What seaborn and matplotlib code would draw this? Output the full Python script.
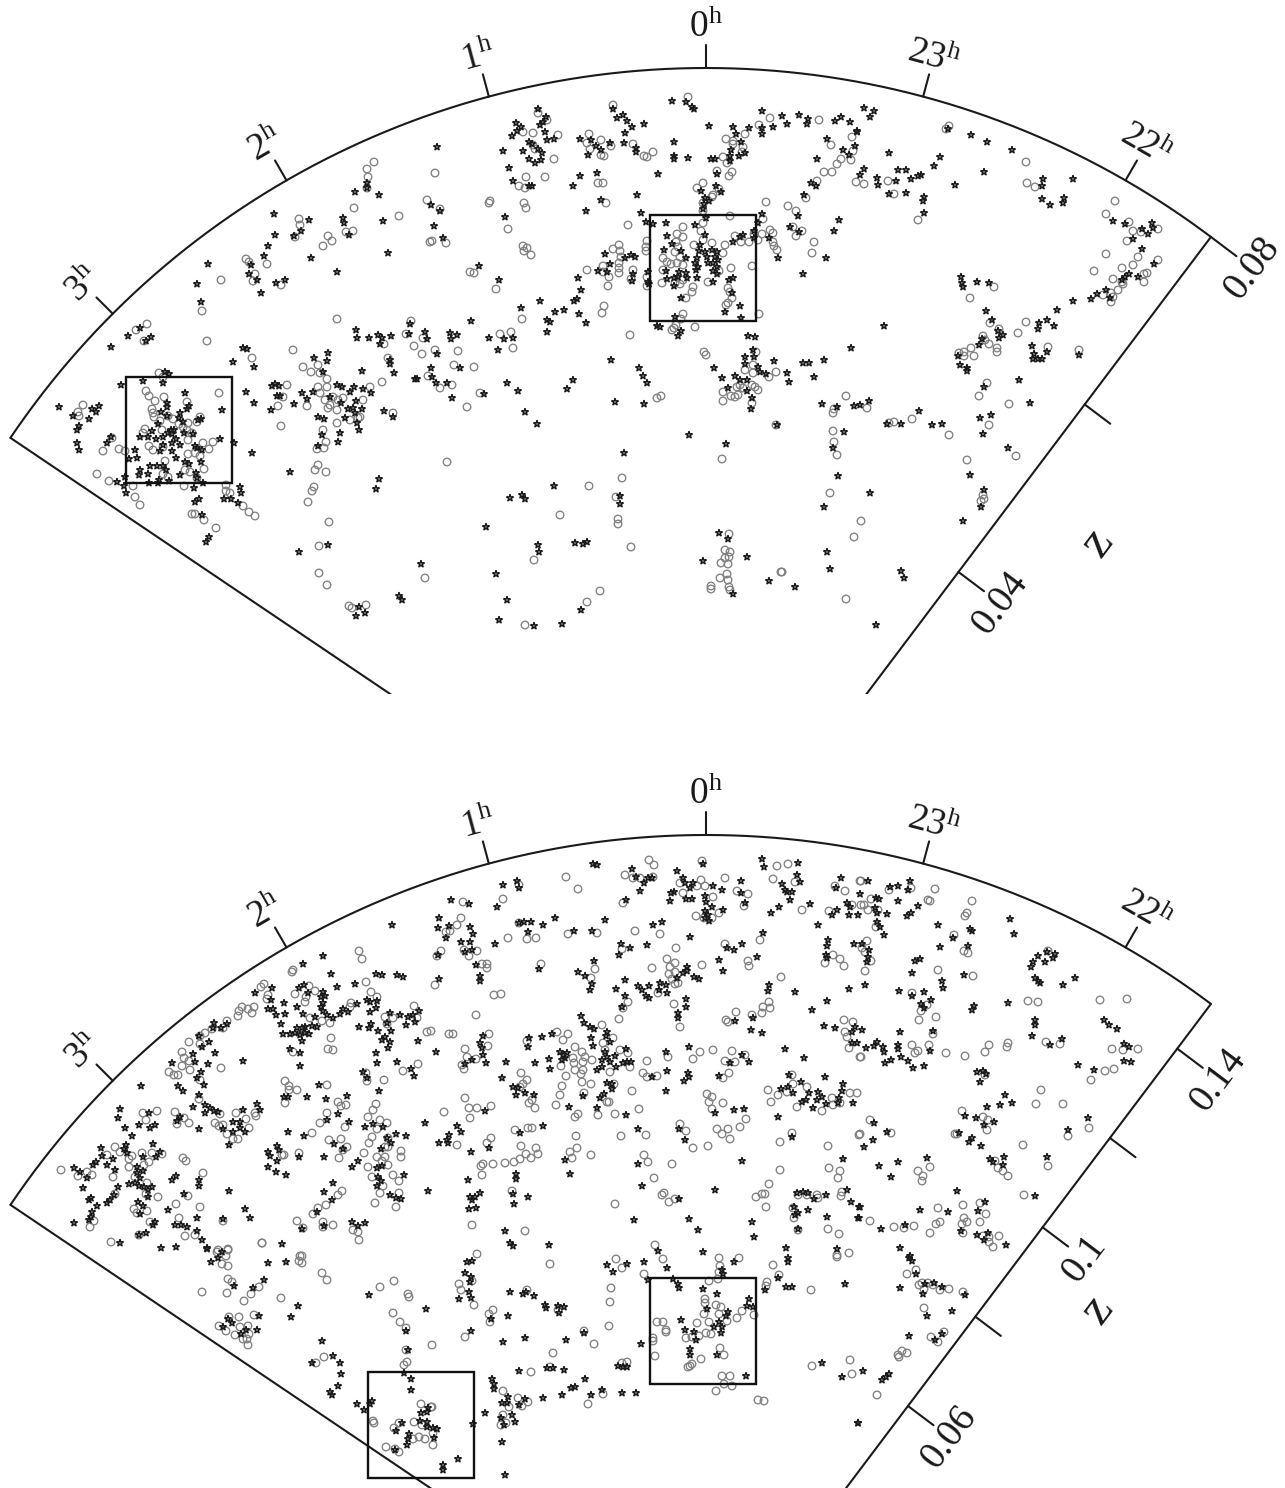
import numpy as np
import pandas as pd
import seaborn as sns
import matplotlib
matplotlib.use("Agg")
import matplotlib.pyplot as plt
from matplotlib.patches import Rectangle

# positions, x and y along the page
top_stars = [
(355,192),(379,195),(367,183),(367,188),(274,214),(309,220),(343,218),(344,223),(383,221),(275,235),(294,236),(301,231),(349,235),(268,246),(264,256),(311,258),(388,253),(337,272),(208,264),(251,265),(249,274),(257,280),(276,283),(285,280),(261,293),(197,284),(201,302),(111,347),(128,336),(140,328),(151,337),(146,341),(243,348),(247,349),(233,362),(254,367),(356,330),(357,338),(369,338),(378,335),(382,338),(380,344),(391,336),(410,324),(409,334),(425,332),(427,339),(328,353),(327,361),(314,358),(323,372),(390,360),(390,364),(394,373),(362,371),(415,379),(417,379),(165,372),(169,374),
(538,109),(546,117),(516,123),(521,127),(517,131),(512,136),(540,125),(543,122),(545,132),(547,140),(554,139),(529,142),(532,144),(538,149),(542,153),(523,151),(503,151),(529,159),(535,163),(541,160),(509,168),(513,181),(529,186),(532,186),(437,147),(613,109),(617,118),(623,115),(627,121),(632,127),(644,124),(625,133),(624,143),(580,139),(591,140),(596,146),(610,143),(601,150),(588,155),(636,148),(636,152),(672,101),(686,102),(692,107),(694,109),(709,126),(674,142),(674,156),(674,159),(688,158),(711,159),(715,159),(658,174),(597,173),(580,176),(573,186),(637,195),(601,200),(586,211),(505,217),(440,211),(434,226),(443,238),(431,205),
(762,111),(782,116),(799,115),(808,119),(807,124),(835,121),(841,117),(850,122),(787,124),(773,127),(762,128),(762,134),(749,128),(733,127),(736,134),(741,142),(731,150),(745,153),(739,156),(730,156),(730,161),(717,174),(857,132),(827,139),(855,146),(843,150),(849,155),(817,159),(811,183),(816,186),(804,195),(716,186),(701,191),(721,192),(705,198),(709,201),(704,204),(703,209),(706,218),(641,213),(646,222),(653,224),(666,223),(695,225),(762,214),(758,223),(798,216),(790,227),(799,232),(839,220),(834,231),(769,238),(754,231),(754,238),(740,237),(743,235),(733,242),(778,258),(826,258),(803,274),
(667,236),(672,244),(664,250),(681,251),(686,258),(705,235),(700,245),(699,251),(705,252),(712,250),(717,252),(697,258),(707,257),(715,257),(718,260),(695,263),(698,267),(708,263),(713,263),(717,267),(696,270),(713,271),(717,274),(666,271),(679,272),(686,273),(687,278),(667,279),(674,278),(678,277),(697,278),(674,286),(713,282),(729,280),(733,278),(732,293),(681,298),(740,306),(725,312),(741,318),(675,317),(657,326),(660,327),(681,331),(678,336),(748,336),(755,337),
(605,254),(610,264),(625,258),(631,255),(635,257),(598,271),(607,272),(633,274),(632,281),(648,272),(648,282),(649,284),(578,278),(581,290),(577,299),(574,301),(564,310),(555,312),(579,314),(540,301),(521,308),(547,320),(550,322),(586,323),(547,332),(471,321),(499,280),(479,266),(450,333),(451,339),(457,335),(489,338),(504,339),(513,338),(498,350),(437,354),(460,368),(431,368),(432,377),(611,360),(639,368),(643,376),
(714,368),(745,357),(753,350),(754,357),(745,364),(758,367),(760,372),(766,374),(774,361),(787,373),(803,363),(809,363),(824,360),(851,348),(722,378),(735,376),(814,377),
(864,108),(874,111),(870,117),(857,131),(948,129),(971,135),(987,142),(1012,150),(889,153),(940,157),(934,166),(864,169),(860,175),(898,170),(906,170),(877,178),(878,185),(896,181),(911,179),(918,176),(921,175),(955,185),(984,172),(889,194),(906,193),(924,197),(923,201),(924,213),(1043,179),(1042,186),(1073,179),(1042,199),(1050,205),(1064,198),(1063,203),(1113,221),(1125,224),(1152,223),(1142,229),(1153,228),(1148,234),(1133,239),(1142,249),(1154,264),(1129,274),(1125,277),(1122,280),(1138,277),(1106,290),(1097,294),(1091,299),(1110,298),(1073,301),(1057,310),(1039,323),(1038,329),(1047,320),(1054,326),(961,277),(962,283),(963,287),(977,282),(989,283),(986,311),(992,320),(998,331),(1003,335),(999,338),(982,339),(979,345),(884,326),(1032,346),(1034,354),(1033,359),(1038,359),(1042,359),(1047,352),(1079,355),(958,356),(960,365),(967,368),(967,371),(984,387),(1019,380),
(869,401),(860,405),(919,411),(887,424),(901,424),(932,425),(942,424),(980,418),(991,415),(983,434),(1030,403),(1008,448),(970,475),(870,493),(984,490),(981,507),(963,521),(901,571),(904,578),(876,625),
(436,383),(447,383),(452,398),(484,394),(507,383),(518,391),(525,412),(537,424),(567,389),(573,380),(615,402),(647,383),(644,404),(689,435),(726,444),(624,453),(728,388),(747,391),(752,398),(751,409),(777,425),(789,382),(822,404),(837,407),(854,406),(844,432),(833,448),(838,476),(824,507),(554,486),(510,498),(522,495),(525,499),(620,496),(620,504),(486,527),(538,545),(539,552),(575,543),(583,544),(587,542),(496,574),(507,600),(499,620),(534,626),(562,624),(581,610),(719,533),(728,539),(747,557),(703,561),(733,594),(769,581),(795,587),(827,552),(830,569),(740,380),(747,380),
(59,407),(73,416),(92,409),(99,406),(96,412),(89,419),(79,426),(77,430),(77,443),(79,450),(111,437),(107,443),(121,385),(143,381),(163,383),(185,393),(167,403),(167,407),(161,412),(167,416),(189,406),(187,409),(180,413),(179,418),(183,422),(198,420),(201,419),(222,410),(158,424),(152,431),(171,430),(174,430),(168,433),(172,434),(184,433),(193,434),(163,437),(148,437),(140,437),(156,439),(176,439),(163,445),(172,443),(180,445),(195,446),(197,448),(202,450),(220,439),(234,443),(135,450),(137,458),(129,459),(160,451),(172,451),(176,458),(185,462),(189,464),(201,462),(252,453),(140,470),(139,475),(150,466),(157,466),(163,466),(166,470),(148,474),(180,475),(196,473),(197,478),(125,477),(117,482),(124,486),(126,493),(149,483),(158,483),(159,480),(169,481),(203,483),(194,488),(240,487),(241,493),(231,499),(224,499),(238,503),(199,499),(195,502),(202,515),(209,537),(206,542),
(246,392),(254,403),(271,410),(275,384),(272,386),(279,386),(277,396),(280,396),(294,404),(302,393),(307,399),(313,392),(290,472),(330,397),(337,385),(342,387),(350,392),(354,387),(363,389),(371,393),(356,401),(341,403),(348,409),(353,408),(362,409),(355,413),(345,418),(357,423),(359,430),(384,411),(393,417),(318,417),(324,419),(322,435),(340,433),(338,442),(318,446),(379,479),(376,489),(328,545),(299,552),(421,564),(359,607),(365,613),(356,616),(399,596),(402,600),
]

top_circles = [
(374,162),(367,169),(368,177),(367,188),(354,208),(399,216),(427,200),(430,242),(299,219),(300,225),(295,237),(328,236),(332,241),(323,246),(346,232),(353,231),(246,259),(249,262),(267,264),(255,274),(253,281),(281,285),(221,280),(202,311),(207,341),(147,324),(136,330),(144,341),(337,319),(293,350),(252,358),(411,321),(406,334),(423,338),(384,344),(414,346),(422,354),(388,358),(318,365),(303,367),(311,372),(320,373),(327,379),(159,373),(163,377),(428,376),
(538,113),(435,173),(440,209),(432,241),(446,243),(490,201),(489,203),(524,203),(526,208),(508,229),(523,246),(527,248),(524,251),(531,255),(470,272),(474,273),(496,289),(522,319),(500,334),(511,332),(513,348),(435,350),(458,351),(454,365),(474,367),(526,177),(545,177),(519,186),(525,188),(554,159),(533,133),(523,132),(547,120),(558,135),(533,145),(535,149),
(613,105),(589,134),(601,140),(587,143),(590,149),(611,146),(601,155),(604,156),(633,144),(644,156),(647,157),(653,152),(598,183),(603,183),(606,203),(688,97),(628,225),(630,335),(613,249),(619,245),(620,251),(621,257),(619,263),(619,268),(619,273),(587,270),(603,266),(603,272),(609,277),(608,286),(633,270),(631,279),(647,241),(646,247),(646,251),(647,277),(647,286),(604,306),(602,313),
(683,227),(677,234),(683,237),(676,242),(678,247),(675,252),(680,257),(663,258),(667,262),(671,264),(677,263),(683,265),(663,270),(675,283),(680,284),(683,280),(662,283),(694,245),(703,240),(712,243),(725,245),(723,253),(701,231),(703,223),(719,271),(731,268),(752,266),(708,282),(693,287),(692,292),(728,288),(730,292),(732,298),(728,303),(726,305),(686,298),(683,314),(681,319),(676,325),(674,328),(672,330),(695,327),(759,314),
(730,216),(766,202),(763,219),(788,206),(796,211),(806,198),(793,227),(802,231),(796,236),(814,242),(812,253),(735,236),(741,242),(749,242),(754,234),(758,240),(762,234),(770,230),(773,233),(773,242),(774,246),(777,250),(703,183),(697,188),(712,197),(713,195),(719,189),(703,203),(703,211),(729,176),(732,172),(717,171),(723,157),(727,163),(726,139),(733,141),(733,144),(743,147),(742,152),(745,134),(759,125),(770,118),(819,120),(852,137),(831,145),(853,151),(851,160),(841,159),(837,164),(832,172),(824,172),(817,181),(856,182),(704,352),(706,355),(756,352),(745,370),(753,365),(753,373),(776,372),(769,377),
(949,126),(946,129),(1026,162),(864,184),(888,181),(894,194),(918,220),(1027,183),(1035,187),(1115,201),(1106,214),(1129,222),(1133,231),(1141,232),(1158,229),(1127,241),(1106,254),(1138,257),(1158,260),(1133,265),(1122,268),(1094,271),(1113,279),(1144,274),(1147,273),(1144,282),(1122,282),(1123,284),(1118,290),(1113,297),(1103,295),(1111,302),(1111,293),(994,287),(970,298),(1026,322),(1018,333),(990,323),(999,329),(983,336),(985,340),(989,344),(971,348),(964,352),(959,353),(964,356),(974,356),(997,348),(997,352),(1048,347),(1079,350),(987,383),(979,396),
(867,408),(894,422),(889,423),(912,419),(949,435),(1009,404),(989,425),(967,460),(1016,456),(983,495),(984,499),(981,501),(861,521),
(440,388),(452,385),(467,407),(480,393),(661,396),(657,398),(723,392),(723,401),(731,396),(735,397),(738,395),(737,387),(740,385),(743,388),(752,385),(755,387),(758,390),(752,403),(776,425),(846,396),(834,409),(833,413),(833,431),(834,442),(837,455),(830,493),(854,537),(846,599),(722,459),(447,462),(622,478),(589,486),(616,497),(560,515),(618,519),(618,524),(631,547),(534,560),(600,591),(587,602),(525,625),(729,534),(725,550),(730,552),(725,558),(729,557),(721,563),(728,564),(727,574),(720,578),(728,580),(711,586),(711,589),(729,587),(730,590),(781,572),(782,572),
(83,405),(78,412),(79,416),(112,438),(103,451),(119,449),(125,451),(97,474),(109,481),(133,486),(135,497),(140,505),(146,391),(149,396),(155,401),(164,397),(187,402),(219,393),(152,409),(153,413),(154,417),(160,421),(168,416),(173,419),(179,424),(183,427),(188,423),(200,417),(197,422),(145,429),(143,433),(162,430),(187,430),(192,433),(188,440),(149,446),(153,450),(163,447),(203,443),(213,442),(209,449),(165,461),(188,454),(195,453),(200,456),(204,469),(185,470),(190,472),(163,474),(168,477),(197,478),(184,486),(226,485),(226,491),(230,493),(243,506),(249,512),(255,516),(192,514),(195,514),(204,520),(216,528),
(287,385),(278,406),(281,426),(283,397),(307,406),(382,382),(337,423),(323,430),(326,442),(324,448),(317,449),(318,465),(315,470),(326,472),(314,487),(312,491),(308,502),(329,522),(319,546),(319,573),(327,585),(425,578),(349,606),(352,608),(366,605),(393,413),(327,387),(320,393),(325,400),(330,405),(328,408),(337,410),(350,420),(360,417),(363,400),(358,418),(370,387),(333,397),(343,398),(318,387),(338,400),
]

bottom_stars = [
(392,925),(323,956),(303,964),(331,974),(376,974),(382,975),(397,975),(403,977),(337,987),(355,984),(272,988),(255,993),(299,988),(304,985),(308,993),(323,992),(325,996),(321,997),(271,1000),(284,1003),(297,1007),(323,1003),(321,1007),(268,1009),(273,1009),(276,1015),(285,1014),(303,1014),(323,1011),(327,1015),(333,1018),(340,1014),(343,1009),(348,1012),(357,1004),(367,1000),(370,1002),(377,1001),(376,1008),(370,1012),(315,1017),(281,1024),(317,1027),(312,1026),(297,1028),(302,1028),(305,1027),(283,1034),(290,1034),(295,1033),(300,1035),(305,1033),(309,1034),(302,1041),(290,1049),(300,1053),(300,1066),(359,1027),(369,1028),(371,1024),(378,1031),(390,1013),(400,1015),(387,1023),(408,1017),(413,1015),(419,1011),(415,1022),(406,1025),(391,1031),(385,1037),(382,1040),(390,1042),(388,1048),(418,1041),(376,1053),(377,1063),(397,1062),(411,1069),(414,1076),(363,1072),(367,1078),
(214,1023),(227,1024),(213,1028),(221,1028),(199,1036),(209,1042),(202,1047),(193,1054),(215,1053),(195,1062),(208,1064),(243,1061),(172,1063),(201,1072),(197,1078),(204,1085),(141,1086),(178,1086),(183,1091),(199,1095),(193,1107),(205,1105),(210,1108),(205,1113),(214,1111),(218,1112),(243,1110),(257,1104),(260,1110),(233,1122),(240,1122),(240,1128),(223,1129),(233,1132),(245,1132),(229,1145),(199,1129),(180,1117),(177,1121),
(319,1085),(284,1097),(288,1097),(307,1097),(326,1099),(347,1096),(338,1114),(327,1120),(349,1122),(373,1124),(365,1127),(379,1091),(425,1123),(288,1132),(304,1136),(383,1127),(396,1134),(406,1136),(387,1138),(334,1144),(343,1149),(391,1143),(381,1149),(277,1146),(279,1150),(268,1152),(270,1156),(277,1161),(299,1157),(324,1157),(268,1167),(276,1172),(286,1175),(358,1161),(352,1167),(382,1166),(377,1168),(404,1175),(378,1177),(381,1181),(377,1186),(390,1195),(396,1198),(401,1199),(428,1191),(333,1183),(324,1192),(332,1200),(317,1212),(229,1191),(245,1209),(250,1218),(223,1219),(197,1218),(197,1231),(202,1240),(352,1222),(358,1226),(365,1223),(324,1226),(302,1229),(282,1244),(207,1248),(161,1248),(176,1247),
(149,1113),(120,1109),(118,1118),(125,1128),(139,1125),(150,1128),(155,1125),(132,1136),(101,1148),(126,1145),(124,1149),(127,1153),(153,1144),(160,1152),(156,1157),(143,1157),(102,1156),(93,1165),(96,1162),(113,1159),(107,1165),(115,1170),(74,1168),(80,1172),(87,1178),(137,1167),(143,1171),(137,1173),(140,1178),(129,1184),(135,1183),(139,1186),(144,1187),(148,1190),(152,1187),(118,1187),(148,1197),(114,1195),(110,1200),(107,1203),(83,1188),(89,1200),(91,1198),(97,1206),(92,1212),(91,1217),(89,1220),(74,1223),(138,1202),(143,1206),(140,1214),(168,1210),(172,1180),(176,1176),(199,1180),(199,1186),(184,1194),(175,1225),(181,1225),(187,1227),(155,1222),(153,1225),(146,1233),(139,1235),(120,1243),
(593,864),(597,865),(632,869),(636,877),(648,878),(652,878),(644,883),(640,891),(626,900),(677,871),(703,864),(683,878),(685,883),(693,883),(690,888),(674,892),(671,893),(670,901),(686,899),(692,899),(713,886),(722,890),(705,896),(706,902),(712,907),(723,910),(705,911),(708,915),(705,918),(709,921),(741,881),(741,893),(745,903),(762,859),(764,867),(798,863),(797,875),(800,882),(782,884),(785,890),(792,892),(787,892),(790,900),(779,907),(771,913),(810,904),(841,878),(836,888),(818,925),(847,903),(850,907),(837,910),(832,915),(849,915),(858,915),
(517,881),(503,885),(519,888),(451,900),(469,904),(497,907),(439,918),(438,928),(449,926),(470,927),(473,934),(446,938),(461,942),(470,942),(495,944),(472,950),(465,952),(438,955),(476,965),(480,976),(480,981),(439,979),
(519,923),(524,922),(531,922),(543,925),(555,918),(528,932),(605,920),(574,931),(592,931),(539,969),(653,925),(662,922),(621,944),(630,948),(647,945),(619,955),(594,961),(690,937),(578,972),(585,976),(592,984),(590,990),(625,980),(616,989),(638,986),(642,990),(649,986),(660,983),(666,985),(659,990),(667,993),(646,996),(649,998),(625,996),(622,1007),(686,999),(686,1007),(678,1013),(678,1018),(677,978),(683,973),(687,967),(687,971),(694,977),(699,979),(719,960),(723,971),(727,948),(734,950),(742,944),(757,957),(763,933),(769,985),(768,991),(795,992),(812,1010),(827,1001),(849,989),(828,940),(827,946),(826,955),(827,958),(854,944),(735,1021),(753,1018),(751,1030),(762,1033),(824,1026),(835,1028),(855,1027),(852,1032),(852,1043),(857,1043),(785,1049),(804,1058),
(581,1016),(584,1023),(590,1027),(594,1029),(607,1032),(606,1036),(591,1038),(610,1042),(593,1046),(552,1034),(542,1037),(529,1038),(528,1047),(483,1036),(480,1043),(482,1048),(483,1055),(472,1060),(465,1064),(486,1063),(436,1052),(506,1062),(535,1063),(549,1059),(550,1069),(560,1052),(563,1055),(562,1060),(567,1053),(565,1058),(605,1052),(607,1057),(602,1060),(602,1067),(597,1070),(610,1062),(616,1067),(615,1056),(626,1049),(623,1063),(627,1062),(631,1062),(502,1078),(607,1083),(612,1084),(612,1089),(604,1094),(600,1098),(583,1096),(569,1107),(597,1108),(626,1115),(513,1087),(518,1088),(516,1095),(525,1093),(534,1095),(485,1111),(543,1126),(520,1133),(457,1126),(461,1132),(449,1135),(447,1140),(448,1143),(439,1143),(489,1148),
(666,1052),(689,1047),(742,1055),(749,1062),(730,1063),(667,1071),(652,1077),(688,1073),(689,1077),(684,1081),(719,1076),(666,1091),(715,1113),(734,1110),(744,1109),(638,1129),(679,1129),(685,1140),(778,1117),(792,1137),(789,1075),(801,1082),(781,1089),(788,1087),(793,1093),(809,1093),(802,1102),(806,1100),(813,1108),(818,1092),(817,1100),(822,1097),(826,1104),(825,1077),(843,1084),(842,1091),(839,1098),(838,1103),(853,1103),
(868,881),(890,887),(898,886),(908,890),(910,881),(860,894),(876,898),(879,899),(898,901),(918,906),(875,908),(887,914),(907,916),(911,913),(877,913),(877,922),(880,927),(884,935),(938,925),(970,929),(972,931),(953,938),(940,947),(968,946),(1010,919),(1014,934),(862,944),(869,950),(868,957),(867,962),(915,961),(920,959),(912,973),(964,975),(865,985),(899,991),(912,996),(924,992),(931,1000),(921,1004),(924,1008),(942,981),(943,988),(974,1006),(972,1010),(1008,1003),(1038,956),(1033,962),(1031,967),(1047,952),(1055,954),(1053,958),(1045,962),(1035,978),(1038,981),(1040,983),(1063,985),(1075,978),(1035,1020),(1035,1025),(1032,1036),(1050,1045),(1062,1039),(1104,1020),(1109,1025),(1117,1029),(1124,1044),(1129,1047),(1124,1061),(1131,1062),(1078,1065),(1094,1070),
(862,1030),(900,1032),(933,1031),(877,1042),(874,1046),(866,1048),(883,1047),(884,1052),(898,1045),(898,1049),(930,1051),(901,1057),(891,1060),(885,1063),(908,1061),(913,1068),(924,1066),(977,1072),(983,1071),(986,1074),(980,1082),(1005,1095),(987,1107),(1000,1105),(1012,1103),(965,1116),(976,1118),(984,1125),(994,1122),(959,1133),(972,1138),(969,1142),(981,1146),(1088,1118),(1068,1130),(874,1123),(887,1132),(873,1140),(864,1147),
(898,1162),(879,1166),(891,1177),(927,1158),(990,1159),(993,1162),(1004,1157),(1003,1165),(1047,1157),(1035,1196),(957,1191),(985,1202),(978,1211),(948,1212),(920,1210),(860,1207),(859,1218),(881,1229),(905,1225),(961,1231),(977,1235),(988,1233),(984,1240),(1006,1245),(900,1248),(910,1256),(909,1258),(912,1261),(916,1274),(900,1288),(925,1284),(934,1283),(942,1287),(923,1294),(965,1295),(952,1311),(927,1316),(909,1336),(942,1334),(935,1340),(889,1374),(886,1377),(882,1380),(863,1371),(858,1423),
(471,1152),(565,1160),(570,1174),(516,1174),(516,1179),(468,1180),(638,1164),(742,1161),(843,1159),(642,1186),(715,1190),(679,1199),(480,1193),(475,1197),(470,1197),(472,1200),(469,1209),(476,1208),(513,1194),(528,1197),(514,1204),(634,1220),(689,1219),(698,1230),(752,1222),(754,1237),(505,1231),(510,1243),(513,1246),(549,1245),(658,1251),(703,1252),
(797,1193),(803,1192),(808,1193),(814,1199),(826,1195),(847,1190),(851,1202),(794,1207),(798,1213),(795,1215),(808,1210),(827,1217),(859,1207),(858,1218),(798,1229),(786,1248),(788,1258),(788,1262),(837,1249),(778,1278),(786,1287),(792,1287),(765,1290),(845,1284),(734,1262),(722,1270),(723,1274),
(667,1268),(644,1262),(627,1264),(607,1265),(613,1272),(648,1280),(673,1279),(678,1284),(679,1288),(703,1289),(717,1294),(749,1299),(747,1306),(753,1307),(707,1309),(728,1312),(726,1316),(681,1320),(719,1322),(714,1327),(722,1327),(721,1333),(685,1330),(694,1332),(696,1340),(690,1349),(690,1355),(717,1355),(746,1376),(641,1344),(822,1363),(842,1377),(858,1423),
(467,1262),(472,1261),(465,1273),(471,1277),(470,1282),(469,1292),(471,1298),(459,1299),(510,1292),(523,1294),(526,1292),(534,1296),(545,1305),(546,1308),(558,1306),(564,1307),(559,1313),(491,1319),(508,1316),(471,1331),(584,1333),(525,1338),(503,1342),(566,1340),
(519,1371),(547,1368),(553,1368),(564,1370),(585,1379),(618,1366),(623,1367),(627,1367),(571,1388),(575,1387),(602,1390),(622,1393),(636,1393),(591,1395),(562,1395),(543,1398),(492,1379),(494,1384),(494,1389),(508,1397),(502,1403),(507,1403),(525,1399),(519,1405),(485,1413),(512,1415),(501,1418),(515,1422),(504,1425),(473,1424),
(268,1263),(286,1262),(207,1249),(211,1262),(218,1258),(222,1252),(264,1280),(234,1286),(253,1288),(298,1306),(291,1317),(228,1319),(232,1323),(259,1316),(223,1327),(246,1330),(241,1334),(257,1330),(322,1341),(333,1356),(340,1363),(312,1363),(341,1374),(338,1386),(330,1392),(332,1395),(369,1295),(406,1331),(408,1350),(426,1309),(404,1373),(411,1379),(411,1390),(357,1404),(364,1410),(372,1401),(370,1404),(402,1423),(396,1431),(421,1413),(428,1408),(427,1412),(420,1421),(427,1422),(427,1427),(409,1434),(408,1439),(407,1445),(395,1450),(433,1428),(437,1429),(434,1438),(443,1465),(443,1470),(458,1459),(505,1475),(502,1442),
]

bottom_circles = [
(362,959),(359,951),(293,970),(292,972),(366,982),(264,984),(261,987),(268,995),(267,999),(295,994),(309,986),(315,991),(306,997),(305,1002),(371,992),(377,997),(351,1003),(350,1007),(414,1006),(242,1007),(239,1011),(238,1016),(248,1009),(252,1013),(254,1007),(227,1021),(223,1028),(212,1029),(205,1033),(200,1036),(189,1042),(200,1044),(182,1052),(184,1058),(189,1061),(182,1066),(190,1070),(169,1072),(174,1075),(178,1075),(221,1068),(200,1080),(427,1032),(385,1017),(393,1018),(417,1018),(387,1024),(330,1023),(322,1021),(310,1018),(331,1038),(328,1049),(333,1050),(293,1052),(418,1064),(403,1071),(384,1080),(366,1073),(367,1081),(285,1081),(289,1086),(289,1090),(297,1090),(327,1085),(285,1103),(199,1099),(338,1102),(341,1106),(346,1105),(327,1113),(376,1104),(373,1110),(368,1117),(380,1120),(387,1123),(377,1129),(320,1123),(345,1127),(312,1133),(372,1137),(369,1143),(388,1138),(388,1147),(385,1147),(329,1140),(341,1139),(347,1147),(343,1150),(364,1153),(401,1151),(401,1157),(377,1157),(385,1157),(382,1161),(388,1165),(339,1158),(299,1153),(284,1155),(282,1155),(368,1167),(393,1175),(399,1181),(372,1177),(383,1186),(380,1193),(399,1193),(375,1203),(396,1207),(342,1191),(338,1195),(326,1205),(318,1208),(313,1214),(297,1221),(333,1225),(303,1228),(323,1222),(323,1227),(353,1230),(358,1232),(359,1240),(262,1243),(228,1249),(218,1250),
(246,1119),(236,1113),(255,1113),(256,1116),(249,1128),(220,1114),(215,1123),(219,1126),(223,1125),(227,1134),(233,1139),(238,1139),(157,1111),(143,1113),(146,1120),(175,1112),(184,1118),(189,1123),(177,1124),(115,1147),(120,1152),(129,1159),(132,1156),(142,1153),(152,1153),(162,1154),(149,1162),(144,1165),(129,1167),(107,1155),(61,1170),(78,1176),(87,1172),(92,1175),(113,1177),(135,1177),(147,1183),(146,1194),(158,1197),(115,1194),(183,1158),(186,1161),(203,1173),(188,1196),(176,1204),(200,1207),(134,1209),(147,1211),(137,1213),(94,1221),(90,1227),(150,1222),(179,1218),(223,1221),(185,1236),(195,1235),(139,1235),(111,1242),
(649,860),(654,865),(702,861),(625,875),(633,878),(640,878),(653,877),(566,877),(578,889),(623,903),(725,878),(680,883),(701,880),(697,886),(705,886),(683,893),(713,897),(737,891),(748,894),(744,906),(719,913),(696,916),(704,918),(712,918),(777,866),(788,864),(773,879),(795,882),(802,910),(835,886),(845,891),(829,911),(852,905),(860,881),
(519,885),(503,899),(461,918),(457,925),(450,931),(446,932),(463,902),(441,951),(464,950),(469,956),(477,951),(482,964),(487,964),(487,968),(435,985),(437,956),(494,995),(501,994),(476,1015),(508,938),(527,939),(536,938),(519,923),(541,964),(568,934),(597,933),(635,931),(660,934),(676,948),(622,949),(595,969),(591,978),(628,1002),(623,1008),(619,1019),(652,968),(667,959),(675,963),(670,967),(675,972),(669,974),(672,979),(678,983),(675,984),(658,993),(674,1004),(680,1027),(702,965),(725,944),(748,961),(749,966),(760,940),(781,977),(769,1002),(770,1008),(763,1007),(762,1013),(736,1012),(726,1020),(728,1022),(752,1015),(833,955),(825,963),(840,959),(844,966),(844,1020),(853,1022),(845,1032),(847,1037),(849,1048),(860,1057),
(449,1034),(453,1034),(489,1034),(431,1031),(527,1041),(465,1049),(488,1046),(467,1057),(476,1059),(462,1065),(464,1069),(557,1032),(568,1034),(563,1040),(602,1025),(613,1038),(575,1047),(582,1052),(585,1057),(573,1058),(592,1060),(574,1063),(583,1062),(561,1066),(575,1070),(583,1070),(566,1076),(581,1074),(582,1082),(591,1084),(603,1043),(605,1050),(620,1050),(628,1053),(630,1067),(610,1072),(647,1061),(614,1084),(632,1091),(607,1102),(609,1102),(584,1093),(562,1086),(560,1095),(556,1105),(521,1073),(527,1080),(523,1084),(520,1087),(532,1100),(529,1103),(535,1108),(465,1098),(444,1112),(469,1108),(477,1108),(491,1106),(470,1118),(578,1114),(575,1117),(598,1115),(615,1114),(639,1109),(515,1130),(528,1128),(532,1128),(576,1136),(646,1135),(621,1136),(491,1138),(487,1143),(457,1145),(521,1146),(536,1148),(577,1148),
(643,1073),(647,1077),(657,1076),(668,1057),(693,1059),(700,1052),(713,1050),(732,1051),(725,1061),(735,1062),(745,1055),(723,1078),(729,1073),(707,1094),(712,1097),(709,1102),(723,1103),(712,1109),(746,1119),(740,1127),(680,1124),(686,1131),(717,1129),(728,1129),(722,1134),(730,1139),(693,1148),(708,1146),(780,1142),(792,1133),(828,1146),(859,1135),
(768,1090),(771,1102),(778,1095),(787,1092),(792,1075),(793,1084),(797,1107),(807,1087),(822,1111),(832,1098),(833,1105),(840,1103),(850,1093),(857,1093),
(861,881),(889,890),(911,888),(935,889),(972,901),(928,900),(930,901),(967,913),(965,916),(871,899),(861,905),(864,905),(868,910),(878,910),(876,927),(954,935),(867,941),(862,948),(865,952),(871,961),(865,971),(964,951),(968,953),(938,970),(973,976),(1048,951),(1028,1001),(1038,1002),(1100,1000),(1127,999),(912,993),(927,1005),(921,1011),(936,1017),(919,1020),(933,1034),(912,1045),(918,1051),(915,1053),(929,1045),(946,1053),(965,1056),(985,1052),(989,1045),(1008,1043),(1007,1047),(1046,1042),(1060,1044),(1112,1049),(1123,1050),(1138,1049),(1114,1069),(1105,1071),(1091,1080),(861,1057),(1041,1090),(1036,1104),(1063,1104),(985,1075),(962,1111),(983,1117),(988,1120),(987,1130),(955,1134),(957,1134),(1023,1145),(1068,1136),(1089,1128),(870,1120),(891,1133),(860,1134),
(918,1171),(923,1176),(922,1181),(930,1167),(995,1161),(998,1168),(1003,1171),(1008,1176),(1048,1166),(1024,1195),(980,1203),(986,1214),(963,1205),(938,1208),(940,1222),(936,1224),(964,1218),(967,1222),(962,1224),(980,1222),(963,1233),(930,1233),(870,1221),(894,1227),(904,1228),(914,1226),(999,1236),(983,1236),(989,1237),(989,1242),(993,1247),(916,1270),(907,1274),(919,1285),(922,1283),(928,1283),(924,1289),(933,1285),(940,1290),(949,1289),(963,1292),(924,1308),(944,1332),(931,1337),(938,1342),(907,1353),(902,1351),(898,1355),(899,1357),(877,1395),
(481,1166),(483,1164),(493,1164),(505,1163),(514,1162),(520,1159),(526,1154),(531,1158),(538,1154),(570,1152),(572,1158),(591,1155),(482,1175),(644,1155),(648,1162),(672,1164),(654,1178),(512,1191),(472,1225),(525,1231),(615,1204),(662,1195),(664,1193),(669,1202),(675,1199),(780,1170),(769,1184),(756,1197),(762,1194),(765,1194),(766,1207),(829,1168),(840,1171),(838,1178),(828,1229),(839,1234),(842,1192),(841,1196),(817,1195),(818,1198),(798,1195),(807,1195),(793,1208),(794,1218),(798,1230),
(837,1255),(837,1257),(849,1253),(773,1265),(779,1275),(811,1290),(767,1282),(766,1286),(739,1258),(719,1258),(720,1266),(719,1272),(718,1279),(709,1281),(655,1245),(663,1259),(644,1274),(616,1259),(622,1268),(611,1288),(610,1302),(609,1326),(594,1344),(553,1353),(550,1367),(531,1372),(622,1363),(627,1362),(584,1331),(653,1338),(653,1341),(657,1322),(663,1322),(666,1330),(666,1332),(655,1356),(705,1299),(705,1303),(716,1305),(721,1307),(704,1314),(719,1314),(709,1322),(727,1321),(697,1323),(737,1318),(742,1311),(754,1315),(706,1333),(711,1334),(699,1336),(692,1337),(686,1338),(720,1348),(724,1355),(701,1359),(692,1364),(690,1366),(688,1367),(722,1376),(730,1376),(724,1384),(732,1386),(716,1391),(758,1400),(764,1401),(812,1366),(850,1360),(852,1374),
(477,1254),(550,1264),(459,1284),(461,1290),(474,1305),(472,1281),(527,1290),(558,1310),(493,1310),(489,1314),(490,1322),(465,1337),(432,1345),(503,1391),(528,1402),(518,1398),(522,1406),(509,1407),(588,1404),(603,1394),(503,1415),(501,1425),(506,1423),(432,1407),
(262,1243),(228,1250),(217,1252),(226,1256),(222,1264),(228,1266),(300,1256),(302,1256),(299,1261),(302,1263),(228,1279),(232,1282),(202,1292),(227,1293),(259,1287),(251,1294),(244,1301),(281,1298),(322,1273),(327,1280),(229,1317),(239,1317),(254,1315),(219,1326),(226,1331),(235,1335),(240,1327),(248,1326),(249,1334),(243,1339),(247,1339),(248,1345),(394,1281),(380,1287),(408,1294),(409,1297),(393,1313),(400,1322),(406,1328),(406,1350),(407,1362),(404,1365),(316,1363),(324,1357),(373,1421),(374,1423),(421,1404),(431,1407),(399,1423),(394,1428),(414,1422),(422,1425),(413,1439),(419,1437),(425,1439),(433,1433),(433,1445),(386,1447),(399,1452),(395,1449),
]

hour_ticks = [0, 1, 2, 3, 23, 22]
hour_labels = ["0", "1", "2", "3", "23", "22"]
top_z_ticks = [0.04, 0.06, 0.08]
top_z_labels = {0.04: "0.04", 0.08: "0.08"}
bottom_z_ticks = [0.06, 0.08, 0.10, 0.12, 0.14]
bottom_z_labels = {0.06: "0.06", 0.10: "0.1", 0.14: "0.14"}
top_boxes = [(126, 377), (650, 215)]
bottom_boxes = [(650, 1278), (368, 1372)]

APEX_X = 706
OUTER_R = 839
RA_LEFT = 56.0
RA_RIGHT = -37.0
BOX = 106


def rim(angle, radius, apex_y):
    a = np.radians(angle)
    return APEX_X - radius * np.sin(a), apex_y - radius * np.cos(a)


def draw_cone(ax, apex_y, z_max, z_ticks, z_labels, boxes):
    # outer arc and the two side edges
    angles = np.linspace(RA_LEFT, RA_RIGHT, 300)
    ax_, ay_ = rim(angles, OUTER_R, apex_y)
    ax.plot(ax_, ay_, color="k", lw=1.5)
    for a in (RA_LEFT, RA_RIGHT):
        ex, ey = rim(a, OUTER_R, apex_y)
        ax.plot([APEX_X, ex], [apex_y, ey], color="k", lw=1.5)

    for h, lab in zip(hour_ticks, hour_labels):
        a = h * 15 if h < 12 else (h - 24) * 15
        x0, y0 = rim(a, OUTER_R, apex_y)
        x1, y1 = rim(a, OUTER_R + 23, apex_y)
        ax.plot([x0, x1], [y0, y1], color="k", lw=1.5)
        tx, ty = rim(a, OUTER_R + 41, apex_y)
        ax.text(tx, ty, r"$\mathrm{%s^{h}}$" % lab, fontsize=27, rotation=a, color="k",
                rotation_mode="anchor", ha="center", va="center", clip_on=False)

    # redshift ticks stick out square to the right edge
    perp = np.array([np.cos(np.radians(37)), np.sin(np.radians(37))])
    for z in z_ticks:
        r = OUTER_R * z / z_max
        x0, y0 = rim(RA_RIGHT, r, apex_y)
        ax.plot([x0, x0 + 32 * perp[0]], [y0, y0 + 32 * perp[1]], color="k", lw=1.5)
        if z in z_labels:
            ax.text(x0 + 52 * perp[0], y0 + 52 * perp[1], z_labels[z], fontsize=28, color="k",
                    rotation=53, rotation_mode="anchor", ha="center", va="center")
    ax.text(1098, apex_y - 364, "z", fontsize=36, rotation=53, color="k",
            rotation_mode="anchor", ha="center", va="center")

    for bx, by in boxes:
        ax.add_patch(Rectangle((bx, by), BOX, BOX, fill=False, ec="#111111", lw=1.7, zorder=5))


def draw_points(ax, circles, stars):
    df_c = pd.DataFrame(circles, columns=["x", "y"])
    df_s = pd.DataFrame(stars, columns=["x", "y"])
    sns.scatterplot(data=df_c, x="x", y="y", ax=ax, marker="o", s=30, facecolor="none",
                    edgecolor="#808080", linewidth=0.95, legend=False, zorder=2)
    sns.scatterplot(data=df_s, x="x", y="y", ax=ax, marker="*", s=24, facecolor="none",
                    edgecolor="k", linewidth=1.1, legend=False, zorder=3)


sns.set_theme(style="white")
plt.rcParams["font.family"] = ["Liberation Serif", "DejaVu Serif"]
plt.rcParams["mathtext.fontset"] = "custom"
plt.rcParams["mathtext.rm"] = "Liberation Serif"

W, H, SPLIT = 1285, 1488, 694
fig = plt.figure(figsize=(W / 100, H / 100), dpi=100)
ax_top = fig.add_axes([0, 1 - SPLIT / H, 1, SPLIT / H])
ax_bot = fig.add_axes([0, 0, 1, 1 - SPLIT / H])
ax_top.set_xlim(0, W)
ax_top.set_ylim(SPLIT, 0)
ax_bot.set_xlim(0, W)
ax_bot.set_ylim(H, SPLIT)

draw_points(ax_top, top_circles, top_stars)
draw_points(ax_bot, bottom_circles, bottom_stars)
draw_cone(ax_top, 907, 0.08, top_z_ticks, top_z_labels, top_boxes)
draw_cone(ax_bot, 1674, 0.15, bottom_z_ticks, bottom_z_labels, bottom_boxes)

for ax in (ax_top, ax_bot):
    ax.axis("off")

fig.savefig("out.png", dpi=100)
